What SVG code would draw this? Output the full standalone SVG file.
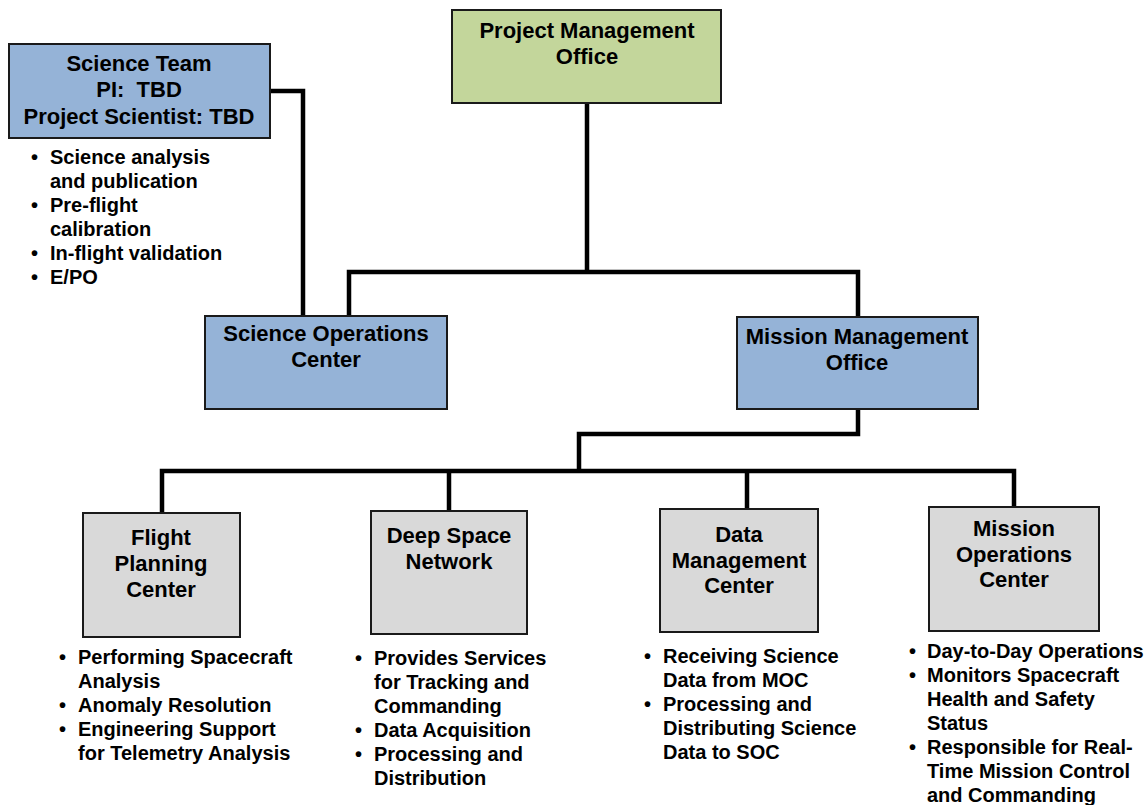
<svg xmlns="http://www.w3.org/2000/svg" width="1148" height="805" viewBox="0 0 1148 805">
<style>
.box{stroke:#1a1a1a;stroke-width:2}
.blue{fill:#95B3D7}
.green{fill:#C3D69B}
.gray{fill:#D9D9D9}
.t{font-family:"Liberation Sans",Arial,sans-serif;font-weight:bold;font-size:22px;fill:#000;text-anchor:middle}
.b{font-family:"Liberation Sans",Arial,sans-serif;font-weight:bold;font-size:20px;fill:#000}
.c{fill:none;stroke:#000;stroke-width:4.5;stroke-linejoin:miter}
</style>
<rect width="1148" height="805" fill="#fff"/>
<g id="connectors">
<path class="c" d="M587,103 V272"/>
<path class="c" d="M349,316 V272 H858 V317"/>
<path class="c" d="M270,91 H303 V316"/>
<path class="c" d="M858,409 V434 H579 V471"/>
<path class="c" d="M162,513 V471 H1014 V507"/>
<path class="c" d="M449,471 V511"/>
<path class="c" d="M747,471 V509"/>
</g>
<g id="pmo">
<rect class="box green" x="452" y="10" width="269" height="93"/>
<text class="t"><tspan x="587" y="38">Project Management</tspan><tspan x="587" y="64">Office</tspan></text>
</g>
<g id="science-team">
<rect class="box blue" x="9" y="44" width="261" height="94"/>
<text class="t"><tspan x="139" y="71">Science Team</tspan><tspan x="139" y="97" xml:space="preserve">PI:  TBD</tspan><tspan x="139" y="124">Project Scientist: TBD</tspan></text>
<text class="b"><tspan x="31" y="164">•</tspan><tspan x="50" y="164">Science analysis</tspan><tspan x="50" y="188">and publication</tspan><tspan x="31" y="212">•</tspan><tspan x="50" y="212">Pre-flight</tspan><tspan x="50" y="236">calibration</tspan><tspan x="31" y="260">•</tspan><tspan x="50" y="260">In-flight validation</tspan><tspan x="31" y="284">•</tspan><tspan x="50" y="284">E/PO</tspan></text>
</g>
<g id="soc">
<rect class="box blue" x="205" y="316" width="242" height="93"/>
<text class="t"><tspan x="326" y="341">Science Operations</tspan><tspan x="326" y="367">Center</tspan></text>
</g>
<g id="mmo">
<rect class="box blue" x="737" y="317" width="241" height="92"/>
<text class="t"><tspan x="857" y="344">Mission Management</tspan><tspan x="857" y="370">Office</tspan></text>
</g>
<g id="fpc">
<rect class="box gray" x="83" y="513" width="157" height="124"/>
<text class="t"><tspan x="161" y="545">Flight</tspan><tspan x="161" y="571">Planning</tspan><tspan x="161" y="597">Center</tspan></text>
<text class="b"><tspan x="59" y="664">•</tspan><tspan x="78" y="664">Performing Spacecraft</tspan><tspan x="78" y="688">Analysis</tspan><tspan x="59" y="712">•</tspan><tspan x="78" y="712">Anomaly Resolution</tspan><tspan x="59" y="736">•</tspan><tspan x="78" y="736">Engineering Support</tspan><tspan x="78" y="760">for Telemetry Analysis</tspan></text>
</g>
<g id="dsn">
<rect class="box gray" x="371" y="511" width="156" height="123"/>
<text class="t"><tspan x="449" y="543">Deep Space</tspan><tspan x="449" y="569">Network</tspan></text>
<text class="b"><tspan x="355" y="665">•</tspan><tspan x="374" y="665">Provides Services</tspan><tspan x="374" y="689">for Tracking and</tspan><tspan x="374" y="713">Commanding</tspan><tspan x="355" y="737">•</tspan><tspan x="374" y="737">Data Acquisition</tspan><tspan x="355" y="761">•</tspan><tspan x="374" y="761">Processing and</tspan><tspan x="374" y="785">Distribution</tspan></text>
</g>
<g id="dmc">
<rect class="box gray" x="660" y="509" width="158" height="123"/>
<text class="t"><tspan x="739" y="542">Data</tspan><tspan x="739" y="568">Management</tspan><tspan x="739" y="593">Center</tspan></text>
<text class="b"><tspan x="644" y="663">•</tspan><tspan x="663" y="663">Receiving Science</tspan><tspan x="663" y="687">Data from MOC</tspan><tspan x="644" y="711">•</tspan><tspan x="663" y="711">Processing and</tspan><tspan x="663" y="735">Distributing Science</tspan><tspan x="663" y="759">Data to SOC</tspan></text>
</g>
<g id="moc">
<rect class="box gray" x="929" y="507" width="170" height="124"/>
<text class="t"><tspan x="1014" y="536">Mission</tspan><tspan x="1014" y="562">Operations</tspan><tspan x="1014" y="587">Center</tspan></text>
<text class="b"><tspan x="909" y="658">•</tspan><tspan x="927" y="658">Day-to-Day Operations</tspan><tspan x="909" y="682">•</tspan><tspan x="927" y="682">Monitors Spacecraft</tspan><tspan x="927" y="706">Health and Safety</tspan><tspan x="927" y="730">Status</tspan><tspan x="909" y="754">•</tspan><tspan x="927" y="754">Responsible for Real-</tspan><tspan x="927" y="778">Time Mission Control</tspan><tspan x="927" y="802">and Commanding</tspan></text>
</g>
</svg>
